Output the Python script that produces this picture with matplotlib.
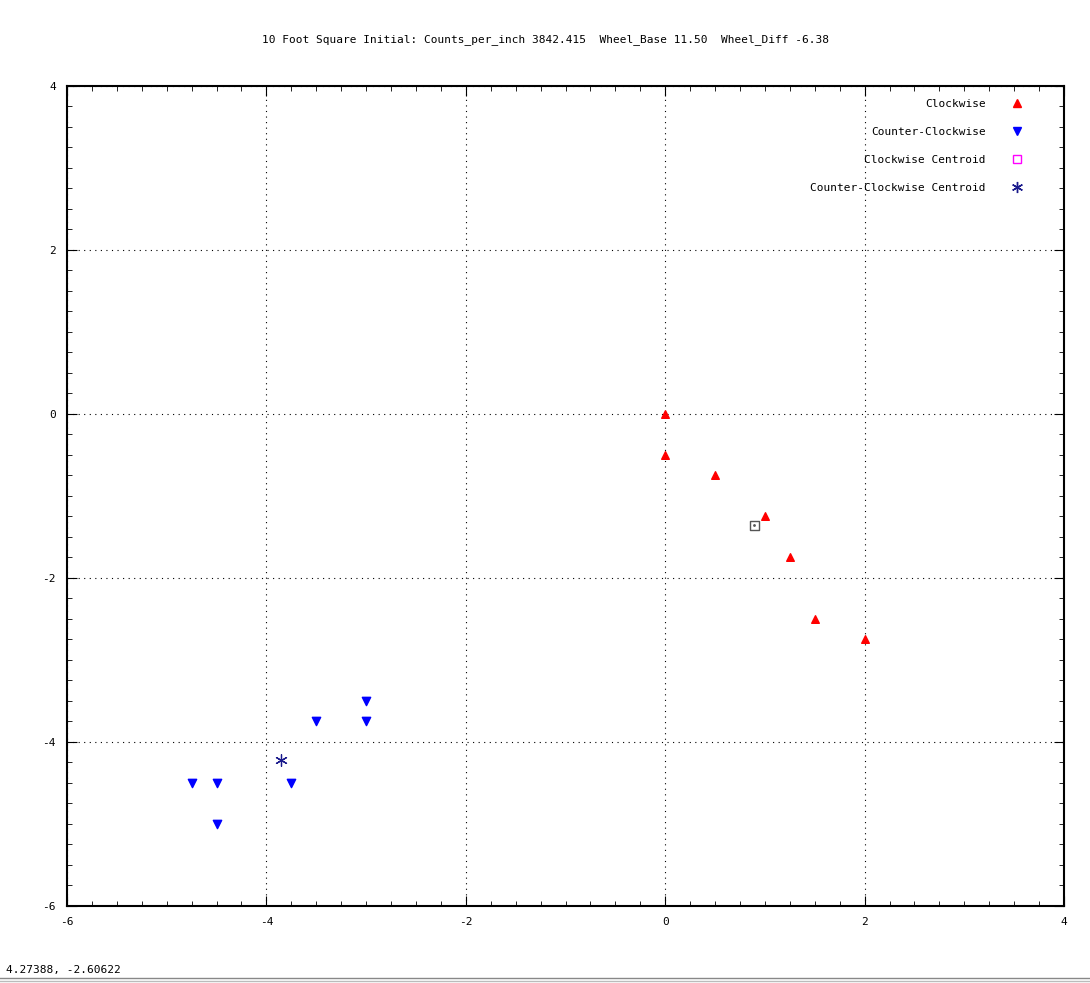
import matplotlib
matplotlib.use('Agg')
import matplotlib.pyplot as plt
from matplotlib.lines import Line2D
from matplotlib.ticker import MultipleLocator

cw_x = [0, 0, 0.5, 1.0, 1.25, 1.5, 2.0]
cw_y = [0, -0.5, -0.75, -1.25, -1.75, -2.5, -2.75]
ccw_x = [-4.75, -4.5, -4.5, -3.75, -3.5, -3.0, -3.0]
ccw_y = [-4.5, -4.5, -5.0, -4.5, -3.75, -3.75, -3.5]
cw_cent = (sum(cw_x) / len(cw_x), sum(cw_y) / len(cw_y))
ccw_cent = (sum(ccw_x) / len(ccw_x), sum(ccw_y) / len(ccw_y))

plt.rcParams['font.family'] = 'DejaVu Sans Mono'
plt.rcParams['axes.unicode_minus'] = False
fig = plt.figure(figsize=(10.9, 9.83), dpi=100)
ax = fig.add_axes([67/1090, 1 - 906/983, (1064-67)/1090, (906-86)/983])

ax.scatter(cw_x, cw_y, marker='^', color='red', s=30, zorder=3)
ax.scatter(ccw_x, ccw_y, marker='v', color='blue', s=36, zorder=3)
ax.scatter([cw_cent[0]], [cw_cent[1]], marker='s', facecolor='none', edgecolor='#555555', s=45, zorder=3)
ax.scatter([cw_cent[0]], [cw_cent[1]], marker='.', color='#555555', s=4, zorder=3)
ax.scatter([ccw_cent[0]], [ccw_cent[1]], marker=(6, 2, 0), color='#1a1a8c', s=70, linewidths=0.9, zorder=3)

ax.set_xlim(-6, 4)
ax.set_ylim(-6, 4)
ax.xaxis.set_major_locator(MultipleLocator(2))
ax.yaxis.set_major_locator(MultipleLocator(2))
ax.xaxis.set_minor_locator(MultipleLocator(0.25))
ax.yaxis.set_minor_locator(MultipleLocator(0.25))
ax.tick_params(which='both', direction='in', top=True, right=True, labelsize=8, pad=8)
ax.tick_params(which='major', length=7)
ax.tick_params(which='minor', length=3.5)
ax.grid(True, which='major', color='black', linestyle=(0, (1, 4)), linewidth=0.8)
for s in ax.spines.values():
    s.set_linewidth(1.5)

handles = [
    Line2D([], [], marker='^', color='red', linestyle='none', markersize=6),
    Line2D([], [], marker='v', color='blue', linestyle='none', markersize=6),
    Line2D([], [], marker='s', markerfacecolor='none', markeredgecolor='magenta', linestyle='none', markersize=6),
    Line2D([], [], marker=(6, 2, 0), color='#1a1a8c', linestyle='none', markersize=8),
]
labels = ['Clockwise', 'Counter-Clockwise', 'Clockwise Centroid', 'Counter-Clockwise Centroid']
ax.legend(handles, labels, loc='upper right', bbox_to_anchor=(0.977, 1.0), frameon=False, markerfirst=False,
          fontsize=8, labelspacing=1.6, handletextpad=1.8, borderaxespad=0.8)

fig.text(0.5, 1 - 40/983, '10 Foot Square Initial: Counts_per_inch 3842.415  Wheel_Base 11.50  Wheel_Diff -6.38',
         ha='center', va='center', fontsize=8)
fig.text(6/1090, 1 - 970/983, '4.27388, -2.60622', ha='left', va='center', fontsize=8)
fig.add_artist(Line2D([0, 1], [1 - 978/983] * 2, color='#888888', linewidth=1))
fig.add_artist(Line2D([0, 1], [1 - 981/983] * 2, color='#bbbbbb', linewidth=1))

fig.savefig('out.png', dpi=100)
